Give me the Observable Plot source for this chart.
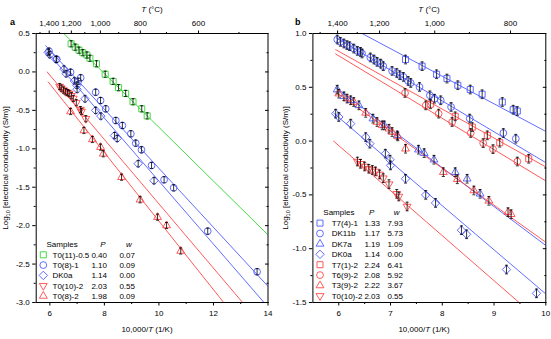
<!DOCTYPE html>
<html><head><meta charset="utf-8">
<script src="https://cdn.jsdelivr.net/npm/d3@7"></script>
<script src="https://cdn.jsdelivr.net/npm/@observablehq/plot@0.6"></script>
<style>
body{margin:0;background:#fff;}
#chart{position:relative;width:551px;height:339px;display:flex;font-family:"Liberation Sans",Arial,sans-serif;}
#chart svg{flex:none;}
text{white-space:pre;}
</style></head><body><div id="chart"></div>
<script>
// ---------------- DATA ----------------
// Panel a
const t0_11_x = [6.78, 6.93, 7.07, 7.21, 7.36, 7.47, 7.71, 8.03, 8.32, 8.52, 8.78, 9.05, 9.37, 9.57];
const t0_11_y = [0.366, 0.322, 0.283, 0.250, 0.220, 0.178, 0.106, -0.03, -0.123, -0.205, -0.28, -0.388, -0.48, -0.572];
const t0_8_1_x = [5.97, 6.25, 6.76, 7.04, 7.13, 7.68, 7.86, 8.05, 8.42, 8.66, 8.97, 9.15, 9.36, 9.73, 10.19, 10.54, 11.79, 13.6];
const t0_8_1_y = [0.27, 0.165, -0.004, -0.121, -0.076, -0.264, -0.372, -0.48, -0.632, -0.697, -0.805, -0.927, -1.013, -1.217, -1.403, -1.508, -2.072, -2.6];
const t0_8_2_x = [6.76, 7.25, 7.56, 7.86, 7.96, 8.63, 9.31, 9.95, 10.28, 10.8];
const t0_8_2_y = [-0.515, -0.762, -0.879, -0.979, -1.065, -1.37, -1.663, -1.89, -1.998, -2.33];
// shared by both panels
const dk0a_x = [5.94, 6.00, 6.23, 6.52, 6.60, 6.90, 6.99, 7.00, 7.29, 7.68, 7.87, 8.37, 8.47, 9.24, 9.82];
const dk0a_y = [0.255, 0.224, 0.162, 0.037, -0.024, -0.117, -0.173, -0.226, -0.35, -0.50, -0.575, -0.828, -0.866, -1.194, -1.415];
const t0_10_x = [6.36, 6.42, 6.50, 6.58, 6.65, 6.71, 6.79, 6.86, 6.97, 7.12, 7.16, 7.32];
const t0_10_y = [-0.19, -0.211, -0.236, -0.257, -0.268, -0.282, -0.31, -0.345, -0.40, -0.49, -0.515, -0.608];
// Panel b
const t7_4_x = [7.29, 7.61, 7.89, 8.09, 8.30, 8.54, 8.77, 9.16, 9.37, 9.45];
const t7_4_y = [0.758, 0.696, 0.621, 0.581, 0.519, 0.479, 0.435, 0.363, 0.292, 0.279];
const dk11b_x = [5.97, 6.03, 6.10, 6.16, 6.21, 6.29, 6.36, 6.42, 6.45, 6.61, 6.68, 6.74, 6.81, 6.86, 7.03, 7.12, 7.18, 7.25, 7.34, 7.39, 7.56, 7.76, 7.85, 7.97, 8.17, 8.53, 9.18, 9.42];
const dk11b_y = [0.944, 0.922, 0.907, 0.891, 0.882, 0.86, 0.838, 0.829, 0.814, 0.777, 0.758, 0.736, 0.72, 0.696, 0.652, 0.633, 0.612, 0.596, 0.559, 0.54, 0.503, 0.425, 0.394, 0.379, 0.317, 0.209, 0.075, 0.022];
const dk7a_x = [5.97, 6.10, 6.23, 6.39, 6.66, 6.88, 7.13, 7.54, 7.65, 7.84, 8.25, 8.48, 8.73];
const dk7a_y = [0.478, 0.416, 0.379, 0.332, 0.209, 0.146, 0.053, -0.08, -0.112, -0.173, -0.289, -0.35, -0.49];
const t7_1_x = [7.77, 8.25, 8.58, 8.87, 9.11, 9.67];
const t7_1_y = [0.342, 0.23, 0.13, 0.053, -0.015, -0.164];
const t6_9_x = [7.28, 7.68, 7.93, 8.19, 8.55, 8.79, 8.98, 9.45];
const t6_9_y = [0.447, 0.332, 0.255, 0.177, 0.075, -0.019, -0.075, -0.19];
const t3_9_x = [6.00, 6.16, 6.29, 6.52, 6.74, 6.84, 6.97, 7.03, 7.14, 7.29, 8.02, 8.29, 8.61, 8.90, 9.27, 9.33];
const t3_9_y = [0.441, 0.395, 0.363, 0.262, 0.177, 0.146, 0.115, 0.084, 0.044, -0.071, -0.289, -0.355, -0.459, -0.555, -0.661, -0.68];
// fitted lines [x1, y1, x2, y2]
const fit_t0_11 = [6.51, 0.5, 14, -2.12];
const fit_t0_8_1 = [5.85, 0.34, 14, -2.79];
const fit_dk0a = [5.9, 0.26, 14, -3.06];
const fit_t0_10 = [5.9, 0.0, 14, -3.39];
const fit_t0_8_2 = [5.94, -0.13, 14, -3.725];
const fit_t7_4 = [6.45, 1.0, 10, 0.09];
const fit_dk11b = [5.95, 0.96, 10, -0.2];
const fit_t7_1 = [5.94, 0.85, 10, -0.24];
const fit_t6_9 = [5.94, 0.81, 10, -0.37];
const fit_dk7a = [5.94, 0.497, 10, -0.97];
const fit_t3_9 = [5.94, 0.456, 10, -0.94];
const errBar = 0.04;
// legend tables
const namesA = ["T0(11)-0.5", "T0(8)-1", "DK0a", "T0(10)-2", "T0(8)-2"];
const pA = ["0.40", "1.10", "1.14", "2.03", "1.98"];
const wA = ["0.07", "0.09", "0.00", "0.55", "0.09"];
const namesB = ["T7(4)-1", "DK11b", "DK7a", "DK0a", "T7(1)-2", "T6(9)-2", "T3(9)-2", "T0(10)-2"];
const pB = ["1.33", "1.17", "1.19", "1.14", "2.24", "2.08", "2.22", "2.03"];
const wB = ["7.93", "5.73", "1.09", "0.00", "6.41", "5.92", "3.67", "0.55"];
// ticks
const xMajorA = [6, 8, 10, 12, 14], xMinorA = [7, 9, 11, 13];
const yMajorA = [-3, -2.5, -2, -1.5, -1, -0.5, 0, 0.5], yMinorA = [-2.75, -2.25, -1.75, -1.25, -0.75, -0.25, 0.25];
const tMajorA = [1400, 1200, 1000, 800, 600], tMinorA = [1500, 1300, 1100, 900, 700, 500];
const xMajorB = [6, 7, 8, 9, 10], xMinorB = [6.5, 7.5, 8.5, 9.5];
const yMajorB = [-1.5, -1, -0.5, 0, 0.5, 1], yMinorB = [-1.25, -0.75, -0.25, 0.25, 0.75];
const tMajorB = [1400, 1200, 1000, 800], tMinorB = [1500, 1300, 1100, 900];

// ---------------- STYLE ----------------
const blue = "#4f5cff", red = "#ff4848", green = "#33d633";
const toInv = T => 10000 / (T + 273.15);
const triUp = {draw(c, s){ const R = Math.sqrt(s)*0.75; c.moveTo(0,-R); c.lineTo(R*0.866, R/2); c.lineTo(-R*0.866, R/2); c.closePath(); }};
const triDown = {draw(c, s){ const R = Math.sqrt(s)*0.75; c.moveTo(0,R); c.lineTo(R*0.866,-R/2); c.lineTo(-R*0.866,-R/2); c.closePath(); }};
const diamond = {draw(c, s){ const d = Math.sqrt(s)*0.7; c.moveTo(0,-d); c.lineTo(d,0); c.lineTo(0,d); c.lineTo(-d,0); c.closePath(); }};
const square = {draw(c, s){ const h = Math.sqrt(s)*0.5; c.moveTo(-h,-h); c.lineTo(h,-h); c.lineTo(h,h); c.lineTo(-h,h); c.closePath(); }};
const circle = {draw(c, s){ const r = Math.sqrt(s/Math.PI); c.moveTo(r,0); c.arc(0,0,r,0,2*Math.PI); }};
const cap = {draw(c, s){ const w = Math.sqrt(s)*0.5; c.moveTo(-w,0); c.lineTo(w,0); }};
const R = 3.4;

const mk = (xs, ys) => xs.map((x, i) => ({x, y: ys[i]}));
const seriesA = [
  {name: namesA[0], data: mk(t0_11_x, t0_11_y), fit: fit_t0_11, color: green, sym: square},
  {name: namesA[1], data: mk(t0_8_1_x, t0_8_1_y), fit: fit_t0_8_1, color: blue, sym: circle},
  {name: namesA[2], data: mk(dk0a_x, dk0a_y), fit: fit_dk0a, color: blue, sym: diamond},
  {name: namesA[3], data: mk(t0_10_x, t0_10_y), fit: fit_t0_10, color: red, sym: triDown},
  {name: namesA[4], data: mk(t0_8_2_x, t0_8_2_y), fit: fit_t0_8_2, color: red, sym: triUp}
];
const seriesB = [
  {name: namesB[0], data: mk(t7_4_x, t7_4_y), fit: fit_t7_4, color: blue, sym: square},
  {name: namesB[1], data: mk(dk11b_x, dk11b_y), fit: fit_dk11b, color: blue, sym: circle},
  {name: namesB[2], data: mk(dk7a_x, dk7a_y), fit: fit_dk7a, color: blue, sym: triUp},
  {name: namesB[3], data: mk(dk0a_x, dk0a_y), fit: fit_dk0a, color: blue, sym: diamond},
  {name: namesB[4], data: mk(t7_1_x, t7_1_y), fit: fit_t7_1, color: red, sym: square},
  {name: namesB[5], data: mk(t6_9_x, t6_9_y), fit: fit_t6_9, color: red, sym: circle},
  {name: namesB[6], data: mk(t3_9_x, t3_9_y), fit: fit_t3_9, color: red, sym: triUp},
  {name: namesB[7], data: mk(t0_10_x, t0_10_y), fit: fit_t0_10, color: red, sym: triDown}
];

function panel(o) {
  const marks = [];
  for (const s of o.series) {
    const f = s.fit;
    marks.push(Plot.line([{x: f[0], y: f[1]}, {x: f[2], y: f[3]}], {x: "x", y: "y", stroke: s.color, strokeWidth: 0.9, clip: true}));
  }
  for (const s of o.series) {
    marks.push(Plot.dot(s.data, {x: "x", y: "y", symbol: s.sym, r: R, stroke: s.color, fill: "none", strokeWidth: 0.9}));
  }
  for (const s of o.series) {
    marks.push(Plot.ruleX(s.data, {x: "x", y1: d => d.y - errBar, y2: d => d.y + errBar, stroke: "black", strokeWidth: 0.8}));
    marks.push(Plot.dot(s.data, {x: "x", y: d => d.y - errBar, symbol: cap, r: 1.7, stroke: "black", strokeWidth: 0.8}));
    marks.push(Plot.dot(s.data, {x: "x", y: d => d.y + errBar, symbol: cap, r: 1.7, stroke: "black", strokeWidth: 0.8}));
  }
  const blank = () => "";
  marks.push(
    Plot.frame({stroke: "black", strokeWidth: 1}),
    Plot.axisY({ticks: o.yMajor, tickSize: 3.5, tickPadding: 3, tickFormat: d => d.toFixed(1), label: null}),
    Plot.axisY({ticks: o.yMinor, tickSize: 2, tickFormat: blank, label: null}),
    Plot.axisY({anchor: "right", ticks: o.yMajor, tickSize: -3.5, tickFormat: blank, label: null}),
    Plot.axisY({anchor: "right", ticks: o.yMinor, tickSize: -2, tickFormat: blank, label: null}),
    Plot.axisX({ticks: o.xMajor, tickSize: 3.5, tickPadding: 4, tickFormat: d => String(d), label: null}),
    Plot.axisX({ticks: o.xMinor, tickSize: 2, tickFormat: blank, label: null}),
    Plot.axisX({anchor: "top", ticks: o.tMajor.map(toInv), tickSize: 3.5, tickPadding: 4,
      tickFormat: d => d3.format(",")(Math.round((10000 / d - 273.15) / 100) * 100), label: null}),
    Plot.axisX({anchor: "top", ticks: o.tMinor.map(toInv), tickSize: 2, tickFormat: blank, label: null})
  );
  const svgNode = Plot.plot({
    width: o.width, height: 339,
    marginLeft: o.ml, marginRight: o.mr, marginTop: 33, marginBottom: 37,
    x: {domain: o.xDomain}, y: {domain: o.yDomain},
    style: {fontFamily: "'Liberation Sans', Arial, sans-serif", fontSize: "8px", color: "black", background: "white", overflow: "visible"},
    marks
  });
  const svg = d3.select(svgNode);
  const g = svg.append("g").attr("fill", "black").attr("font-size", 8).attr("text-anchor", "start");
  // panel letter
  g.append("text").attr("x", o.letterX).attr("y", 25).attr("font-weight", "bold").attr("font-size", 9).text(o.letter);
  // top label
  const tt = g.append("text").attr("x", o.cx).attr("y", 11.5).attr("text-anchor", "middle");
  tt.append("tspan").attr("font-style", "italic").text("T");
  tt.append("tspan").text(" (°C)");
  // bottom label
  const bt = g.append("text").attr("x", o.cx - 5).attr("y", 332).attr("text-anchor", "middle");
  bt.append("tspan").text("10,000/");
  bt.append("tspan").attr("font-style", "italic").text("T");
  bt.append("tspan").text(" (1/K)");
  // y label
  const yt = g.append("text").attr("transform", `translate(${o.ylx},168) rotate(-90)`).attr("text-anchor", "middle");
  yt.append("tspan").text("Log");
  yt.append("tspan").attr("font-size", 5.5).attr("dy", 1.8).text("10");
  yt.append("tspan").attr("dy", -1.8).text(" [electrical conductivity (S/m)]");
  // legend
  const L = o.leg;
  g.append("text").attr("x", L.headX).attr("y", L.headY).attr("text-anchor", "start").text("Samples");
  g.append("text").attr("x", L.pHead).attr("y", L.headY).attr("text-anchor", "middle").attr("font-style", "italic").text("P");
  g.append("text").attr("x", L.wHead).attr("y", L.headY).attr("text-anchor", "middle").attr("font-style", "italic").text("w");
  o.series.forEach((s, i) => {
    const yb = L.row0 + i * L.dy;
    g.append("path").attr("d", d3.symbol(s.sym, Math.PI * R * R)()).attr("transform", `translate(${L.symX},${yb - 2.8})`)
      .attr("fill", "none").attr("stroke", s.color).attr("stroke-width", 0.9);
    g.append("text").attr("x", L.nameX).attr("y", yb).attr("text-anchor", "start").text(s.name);
    g.append("text").attr("x", L.pX).attr("y", yb).attr("text-anchor", "end").text(o.P[i]);
    g.append("text").attr("x", L.wX).attr("y", yb).attr("text-anchor", "end").text(o.W[i]);
  });
  return svgNode;
}

const chart = document.getElementById("chart");
chart.appendChild(panel({
  width: 276, ml: 35.7, mr: 8.5, xDomain: [5.5, 14], yDomain: [-3, 0.5],
  xMajor: xMajorA, xMinor: xMinorA, yMajor: yMajorA, yMinor: yMinorA, tMajor: tMajorA, tMinor: tMinorA,
  series: seriesA, P: pA, W: wA, letter: "a", letterX: 10, cx: 152, ylx: 8,
  leg: {headX: 46.5, headY: 247, pHead: 103, wHead: 129, row0: 257.6, dy: 10.3, symX: 43.3, nameX: 52.5, pX: 107, wX: 135}
}));
chart.appendChild(panel({
  width: 275, ml: 36.4, mr: 5.7, xDomain: [5.5, 10], yDomain: [-1.5, 1.0],
  xMajor: xMajorB, xMinor: xMinorB, yMajor: yMajorB, yMinor: yMinorB, tMajor: tMajorB, tMinor: tMinorB,
  series: seriesB, P: pB, W: wB, letter: "b", letterX: 19, cx: 153, ylx: 12,
  leg: {headX: 47.3, headY: 215.4, pHead: 95.7, wHead: 120.7, row0: 225.9, dy: 10.4, symX: 44, nameX: 55.7, pX: 104, wX: 127}
}));
</script></body></html>
